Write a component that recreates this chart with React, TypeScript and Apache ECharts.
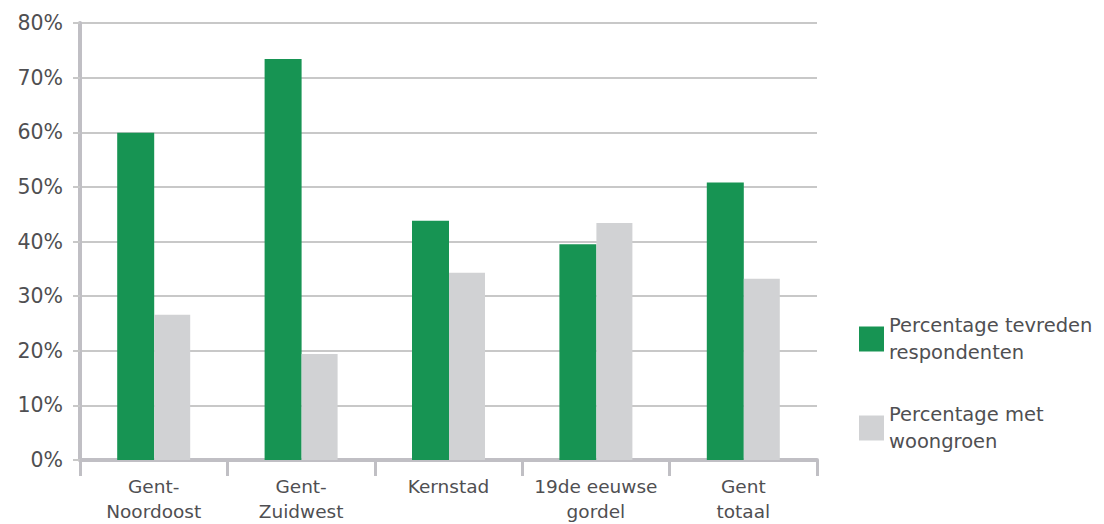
import React, { useEffect, useRef } from "react";
import * as echarts from "echarts";

const categories = ["Gent-\nNoordoost", "Gent-\nZuidwest", "Kernstad", "19de eeuwse\ngordel", "Gent\ntotaal"];
const tevreden = [59.9, 73.4, 43.8, 39.5, 50.8];
const woongroen = [26.6, 19.4, 34.3, 43.4, 33.2];
const seriesNames = ["Percentage tevreden respondenten", "Percentage met woongroen"];
const legendLabels: Record<string, string> = {
  "Percentage tevreden respondenten": "Percentage tevreden\nrespondenten",
  "Percentage met woongroen": "Percentage met\nwoongroen",
};

const FONT = "'DejaVu Sans', 'Open Sans', sans-serif";
const TXT = "#4f4f52";
const AXIS = "#c0bfc4";

export default function App() {
  const ref = useRef<HTMLDivElement>(null);
  useEffect(() => {
    if (!ref.current) return;
    const chart = echarts.init(ref.current, undefined, { renderer: "svg" });
    chart.setOption({
      animation: false,
      backgroundColor: "#ffffff",
      textStyle: { fontFamily: FONT },
      grid: { left: 80, right: 287, top: 23, bottom: 62, containLabel: false },
      legend: {
        orient: "vertical",
        left: 854,
        top: 307,
        itemWidth: 25,
        itemHeight: 25,
        itemGap: 35,
        icon: "rect",
        data: seriesNames,
        formatter: (n: string) => legendLabels[n] || n,
        textStyle: { fontFamily: FONT, fontSize: 19.5, color: TXT, lineHeight: 27, padding: [0, 0, 0, 0] },
      },
      xAxis: {
        type: "category",
        data: categories,
        boundaryGap: true,
        axisLine: { lineStyle: { color: AXIS, width: 4 } },
        axisTick: { show: true, length: 16, lineStyle: { color: AXIS, width: 3 } },
        axisLabel: { fontFamily: FONT, fontSize: 18.5, color: TXT, lineHeight: 25, margin: 14, interval: 0 },
        splitLine: { show: false },
      },
      yAxis: {
        type: "value",
        min: 0,
        max: 80,
        interval: 10,
        axisLine: { show: true, lineStyle: { color: AXIS, width: 4 } },
        axisTick: { show: true, length: 7, lineStyle: { color: "#c8c8c8", width: 2 } },
        axisLabel: { fontFamily: FONT, fontSize: 20.5, color: TXT, margin: 17, formatter: "{value}%" },
        splitLine: { show: true, lineStyle: { color: "#c8c8c8", width: 2 } },
      },
      series: [
        {
          name: seriesNames[0],
          type: "bar",
          data: tevreden,
          barWidth: 37,
          barGap: "0%",
          itemStyle: { color: "#179453" },
        },
        {
          name: seriesNames[1],
          type: "bar",
          data: woongroen,
          barWidth: 36,
          barGap: "0%",
          itemStyle: { color: "#d1d2d4" },
        },
      ],
    });
    return () => chart.dispose();
  }, []);
  return (
    <div
      ref={ref}
      style={{ position: "fixed", left: 0, top: 0, width: 1104, height: 524, background: "#fff" }}
    />
  );
}
